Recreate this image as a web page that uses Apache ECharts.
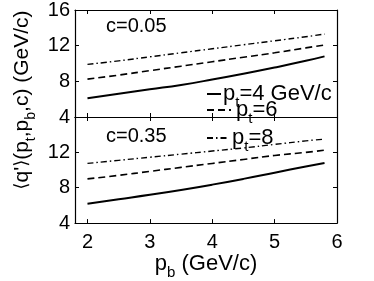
<!DOCTYPE html>
<html>
<head>
<meta charset="utf-8">
<script src="https://cdn.jsdelivr.net/npm/echarts@6/dist/echarts.min.js"></script>
<style>
  html, body { margin: 0; padding: 0; background: #fff; }
  #chart { width: 374px; height: 281px; }
</style>
</head>
<body>
<div id="chart"></div>
<script>
// p_b values (GeV/c)
const pb = [2, 2.5, 3, 3.5, 4, 4.5, 5, 5.5, 5.8];

// c = 0.05 panel
const topPt4 = [6.1, 6.6, 7.1, 7.6, 8.2, 8.85, 9.55, 10.3, 10.8];
const topPt6 = [8.25, 8.7, 9.2, 9.7, 10.2, 10.7, 11.2, 11.75, 12.07];
const topPt8 = [9.9, 10.3, 10.75, 11.2, 11.65, 12.1, 12.55, 13.0, 13.3];

// c = 0.35 panel
const botPt4 = [6.2, 6.7, 7.2, 7.75, 8.35, 9.0, 9.7, 10.4, 10.8];
const botPt6 = [9.0, 9.4, 9.85, 10.3, 10.75, 11.2, 11.65, 12.0, 12.25];
const botPt8 = [10.75, 11.1, 11.45, 11.8, 12.15, 12.5, 12.9, 13.3, 13.5];

const panelLabels = ['c=0.05', 'c=0.35'];
const legendLabels = ['=4 GeV/c', '=6', '=8'];

const FONT = '"Liberation Sans", Arial, sans-serif';
// rich text: m = normal, s = subscript, a = angle brackets
function rich(size) {
  return {
    m: { fontSize: size, fontFamily: FONT, color: '#000', lineHeight: 32 },
    s: { fontSize: size - 7, fontFamily: FONT, color: '#000', lineHeight: size - 7, verticalAlign: 'bottom' },
    a: { fontSize: size - 3, fontFamily: '"DejaVu Sans", sans-serif', color: '#000', lineHeight: 32 }
  };
}

const pair = (xs, ys) => xs.map((x, i) => [x, ys[i]]);

const chart = echarts.init(document.getElementById('chart'));

const grids = [
  { left: 75, top: 5, width: 262, height: 112 },
  { left: 75, top: 117, width: 262, height: 112 }
];

function xAx(gi, pos, labels) {
  return {
    type: 'value', gridIndex: gi, position: pos, min: 1.8, max: 6, splitNumber: 4,
    axisLine: { show: true, onZero: false, lineStyle: { color: '#000', width: 1.2 } },
    axisTick: { show: true, inside: true, length: 4, lineStyle: { color: '#000' } },
    splitLine: { show: false },
    axisLabel: {
      show: labels, showMinLabel: false, margin: 9, color: '#000', fontSize: 20, fontFamily: FONT,
      formatter: v => (Number.isInteger(v) ? String(v) : '')
    }
  };
}
function yAx(gi, pos, labels, showMax) {
  return {
    type: 'value', gridIndex: gi, position: pos, min: 4, max: 16, interval: 4,
    axisLine: { show: true, lineStyle: { color: '#000', width: 1.2 } },
    axisTick: { show: true, inside: true, length: 4, lineStyle: { color: '#000' } },
    splitLine: { show: false },
    axisLabel: { show: labels, showMaxLabel: showMax, margin: 5, color: '#000', fontSize: 20, fontFamily: FONT }
  };
}

const styles = {
  pt4: { color: '#000', width: 2, type: 'solid' },
  pt6: { color: '#000', width: 1.6, type: [7, 4] },
  pt8: { color: '#000', width: 1.4, type: [6, 3, 1.5, 3] }
};

function line(name, gi, ys) {
  return {
    name: name, type: 'line', xAxisIndex: gi * 2, yAxisIndex: gi * 2,
    data: pair(pb, ys), showSymbol: false, symbol: 'none', smooth: true,
    lineStyle: styles[name], itemStyle: { color: '#000' }, silent: true
  };
}

const xBottom = xAx(1, 'bottom', true);
xBottom.name = '{m|p}{s|b}{m| (GeV/c)}';
xBottom.nameLocation = 'middle';
xBottom.nameGap = 17;
xBottom.nameTextStyle = { rich: rich(22), align: 'center', verticalAlign: 'top' };

function legendFor(name, top, label, width, pad) {
  return {
    data: [name], left: 206, top: top, orient: 'vertical',
    itemWidth: width, itemHeight: 10, itemGap: 0, padding: 0,
    selectedMode: false,
    itemStyle: { opacity: 0, borderWidth: 0 },
    formatter: () => '{m|p}{s|t}{m|' + label + '}',
    textStyle: { rich: rich(22), padding: [0, 0, 0, pad] }
  };
}

chart.setOption({
  animation: false,
  grid: grids,
  xAxis: [xAx(0, 'bottom', false), xAx(0, 'top', false), xBottom, xAx(1, 'top', false)],
  yAxis: [yAx(0, 'left', true, true), yAx(0, 'right', false, true), yAx(1, 'left', true, false), yAx(1, 'right', false, true)],
  legend: [
    legendFor('pt4', 83, legendLabels[0], 14, -3),
    legendFor('pt6', 99, legendLabels[1], 24, 0),
    legendFor('pt8', 127, legendLabels[2], 20, 0)
  ],
  graphic: [
    { type: 'text', left: 106, top: 16, style: { text: panelLabels[0], fontSize: 20, fontFamily: FONT, fill: '#000' } },
    { type: 'text', left: 106, top: 126, style: { text: panelLabels[1], fontSize: 20, fontFamily: FONT, fill: '#000' } },
    {
      type: 'text', x: 22, y: 100, rotation: Math.PI / 2,
      style: {
        text: "{a|\u27e8}{m|q'}{a|\u27e9}{m|(p}{s|t}{m|,p}{s|b}{m|,c) (GeV/c)}",
        rich: rich(21), align: 'center', verticalAlign: 'middle'
      }
    }
  ],
  series: [
    line('pt4', 0, topPt4), line('pt6', 0, topPt6), line('pt8', 0, topPt8),
    line('pt4', 1, botPt4), line('pt6', 1, botPt6), line('pt8', 1, botPt8)
  ]
});
</script>
</body>
</html>
